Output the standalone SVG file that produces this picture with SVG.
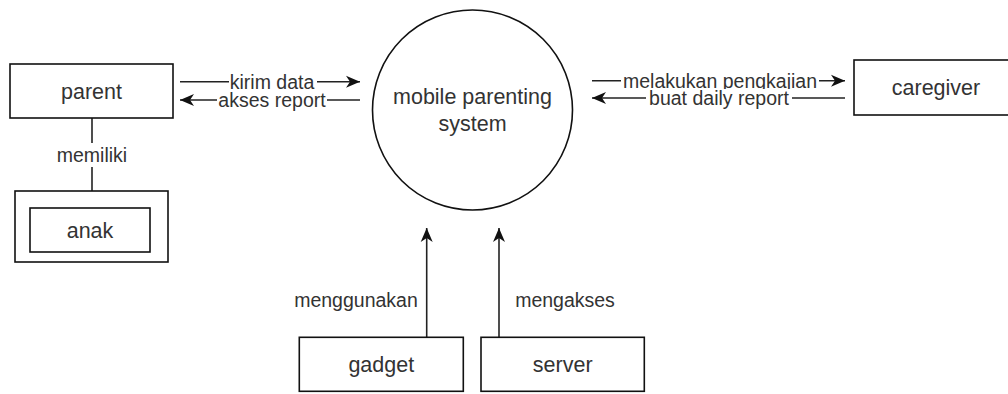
<svg xmlns="http://www.w3.org/2000/svg" width="1008" height="394" viewBox="0 0 1008 394">
<defs>
<style>
.box{fill:#fff;stroke:#111;stroke-width:1.6}
.nt{font-family:"Liberation Sans",Arial,sans-serif;font-size:21.5px;fill:#333;text-anchor:middle}
.et{font-family:"Liberation Sans",Arial,sans-serif;font-size:19.5px;fill:#333;text-anchor:middle}
.ln{fill:none;stroke:#222;stroke-width:1.6}
.bg{fill:#fff}
</style>
<marker id="arr" markerUnits="userSpaceOnUse" markerWidth="16" markerHeight="14" viewBox="0 0 16 14" refX="14" refY="7" orient="auto">
<path d="M0,1 L14,7 L0,13 L4,7 Z" fill="#111"/>
</marker>
</defs>
<rect width="1008" height="394" fill="#fff"/>
<g id="connectors">
<line class="ln" x1="180" y1="81.7" x2="360" y2="81.7" marker-end="url(#arr)"/>
<rect class="bg" x="229" y="72" width="88" height="20"/>
<text class="et" x="272" y="88.5">kirim data</text>
<line class="ln" x1="360" y1="100" x2="180" y2="100" marker-end="url(#arr)"/>
<rect class="bg" x="217" y="90.5" width="110" height="20"/>
<text class="et" x="272" y="107">akses report</text>
<line class="ln" x1="592" y1="80.7" x2="845" y2="80.7" marker-end="url(#arr)"/>
<rect class="bg" x="621" y="71" width="198" height="20"/>
<text class="et" x="720" y="87.5">melakukan pengkajian</text>
<line class="ln" x1="845" y1="98" x2="592" y2="98" marker-end="url(#arr)"/>
<rect class="bg" x="646" y="89" width="146" height="19"/>
<text class="et" x="719" y="105">buat daily report</text>
<line class="ln" x1="92" y1="118" x2="92" y2="191"/>
<rect class="bg" x="54" y="143" width="76" height="24"/>
<text class="et" x="92" y="162">memiliki</text>
<line class="ln" x1="426.7" y1="337.3" x2="426.7" y2="228" marker-end="url(#arr)"/>
<text class="et" x="356" y="307">menggunakan</text>
<line class="ln" x1="499" y1="337.3" x2="499" y2="228" marker-end="url(#arr)"/>
<text class="et" x="565" y="307">mengakses</text>
</g>
<g id="system">
<circle class="box" cx="472.5" cy="110" r="100"/>
<text class="nt" x="472.5" y="104">mobile parenting</text>
<text class="nt" x="472.5" y="131">system</text>
</g>
<g id="parent">
<rect class="box" x="10" y="64" width="163" height="54"/>
<text class="nt" x="91.5" y="98.5">parent</text>
</g>
<g id="caregiver">
<rect class="box" x="854" y="60" width="164" height="55"/>
<text class="nt" x="936" y="95">caregiver</text>
</g>
<g id="anak">
<rect class="box" x="15" y="191" width="153" height="71"/>
<rect class="box" x="30" y="208" width="120" height="44"/>
<text class="nt" x="90" y="237.5">anak</text>
</g>
<g id="gadget">
<rect class="box" x="299.3" y="337.3" width="164" height="54"/>
<text class="nt" x="381.3" y="371.5">gadget</text>
</g>
<g id="server">
<rect class="box" x="481" y="337.3" width="163.3" height="54"/>
<text class="nt" x="562.7" y="371.5">server</text>
</g>
</svg>
